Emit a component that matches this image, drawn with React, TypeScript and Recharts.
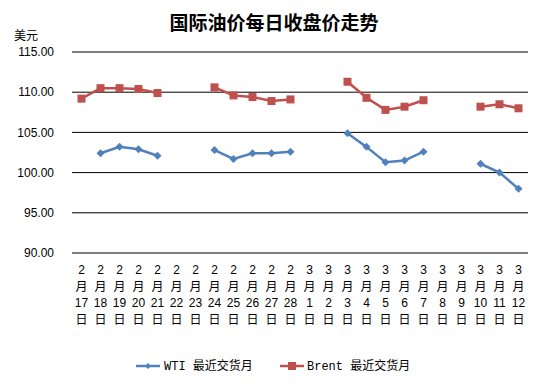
import { LineChart, Line, XAxis, YAxis, CartesianGrid, Legend } from 'recharts';

const months = [
  '2', '2', '2', '2', '2', '2', '2', '2', '2', '2', '2', '2',
  '3', '3', '3', '3', '3', '3', '3', '3', '3', '3', '3', '3',
];
const days = [
  '17', '18', '19', '20', '21', '22', '23', '24', '25', '26', '27', '28',
  '1', '2', '3', '4', '5', '6', '7', '8', '9', '10', '11', '12',
];
// null = no trading day
const wti = [
  null, 102.4, 103.2, 102.9, 102.1, null, null, 102.8, 101.7, 102.4, 102.4, 102.6,
  null, null, 104.9, 103.2, 101.3, 101.5, 102.6, null, null, 101.1, 100.0, 98.0,
];
const brent = [
  109.2, 110.5, 110.5, 110.4, 109.9, null, null, 110.6, 109.6, 109.4, 108.9, 109.1,
  null, null, 111.3, 109.3, 107.8, 108.2, 109.0, null, null, 108.2, 108.5, 108.0,
];
const yTicks = [90, 95, 100, 105, 110, 115];

const data = days.map((d, i) => ({
  date: `${months[i]}/${d}`,
  wti: wti[i],
  brent: brent[i],
}));

const BLUE = '#4F81BD';
const RED = '#C0504D';
const FONT = '"Liberation Sans", Arial, "Noto Sans CJK SC", sans-serif';

function DateTick(props: any) {
  const { x, payload } = props;
  const [m, d] = String(payload.value).split('/');
  const rows = [m, '月', d, '日'];
  return (
    <g>
      {rows.map((t, i) => (
        <text
          key={i}
          x={x}
          y={274 + i * 16.5}
          textAnchor="middle"
          fontSize={12}
          fontFamily={FONT}
          fill="#000"
        >
          {t}
        </text>
      ))}
    </g>
  );
}

function Diamond({ cx, cy }: any) {
  if (cx == null || cy == null) return null;
  return <path d={`M${cx},${cy - 4} L${cx + 4},${cy} L${cx},${cy + 4} L${cx - 4},${cy} Z`} fill={BLUE} />;
}

function Square({ cx, cy }: any) {
  if (cx == null || cy == null) return null;
  return <rect x={cx - 4} y={cy - 4} width={8} height={8} fill={RED} />;
}

function LegendBox() {
  const legendFont = '"Liberation Mono", "Noto Sans CJK SC", monospace';
  return (
    <svg width={544} height={20} style={{ position: 'absolute', left: 0, top: 356 }}>
      <line x1={136} y1={10} x2={160} y2={10} stroke={BLUE} strokeWidth={2.5} />
      <path d="M148,7 L151,10 L148,13 L145,10 Z" fill={BLUE} />
      <text x={164} y={14} fontSize={12} fontFamily={legendFont} fill="#000">
        WTI 最近交货月
      </text>
      <line x1={280} y1={10} x2={304} y2={10} stroke={RED} strokeWidth={2.5} />
      <rect x={288} y={6} width={8} height={8} fill={RED} />
      <text x={307} y={14} fontSize={12} fontFamily={legendFont} fill="#000">
        Brent 最近交货月
      </text>
    </svg>
  );
}

export default function App() {
  return (
    <div style={{ position: 'absolute', left: 0, top: 0, width: 544, height: 384, background: '#fff' }}>
      <div
        style={{
          position: 'absolute',
          left: 0,
          top: 10,
          width: 548,
          textAlign: 'center',
          fontFamily: '"Noto Sans CJK SC", sans-serif',
          fontWeight: 'bold',
          fontSize: 19,
          lineHeight: '24px',
        }}
      >
        国际油价每日收盘价走势
      </div>
      <div
        style={{
          position: 'absolute',
          left: 14,
          top: 27,
          fontFamily: '"Noto Sans CJK SC", sans-serif',
          fontSize: 12,
          lineHeight: '16px',
        }}
      >
        美元
      </div>
      <LineChart
        width={544}
        height={384}
        data={data}
        margin={{ top: 52, right: 16, left: 0, bottom: 0 }}
      >
        <CartesianGrid vertical={false} stroke="#000" strokeWidth={1} />
        <XAxis
          dataKey="date"
          interval={0}
          axisLine={false}
          tickLine={false}
          tick={<DateTick />}
          height={131}
          padding={{ left: 9.5, right: 9.5 }}
        />
        <YAxis
          width={72}
          domain={[90, 115]}
          ticks={yTicks}
          axisLine={false}
          tickLine={false}
          tickSize={0}
          tickMargin={18}
          tickFormatter={(v: number) => v.toFixed(2)}
          tick={{ fontSize: 12, fontFamily: FONT, fill: '#000' }}
        />
        <Line
          dataKey="wti"
          stroke={BLUE}
          strokeWidth={2.5}
          dot={<Diamond />}
          activeDot={false}
          isAnimationActive={false}
          connectNulls={false}
        />
        <Line
          dataKey="brent"
          stroke={RED}
          strokeWidth={2.5}
          dot={<Square />}
          activeDot={false}
          isAnimationActive={false}
          connectNulls={false}
        />
        <Legend content={() => null} />
      </LineChart>
      <LegendBox />
    </div>
  );
}
